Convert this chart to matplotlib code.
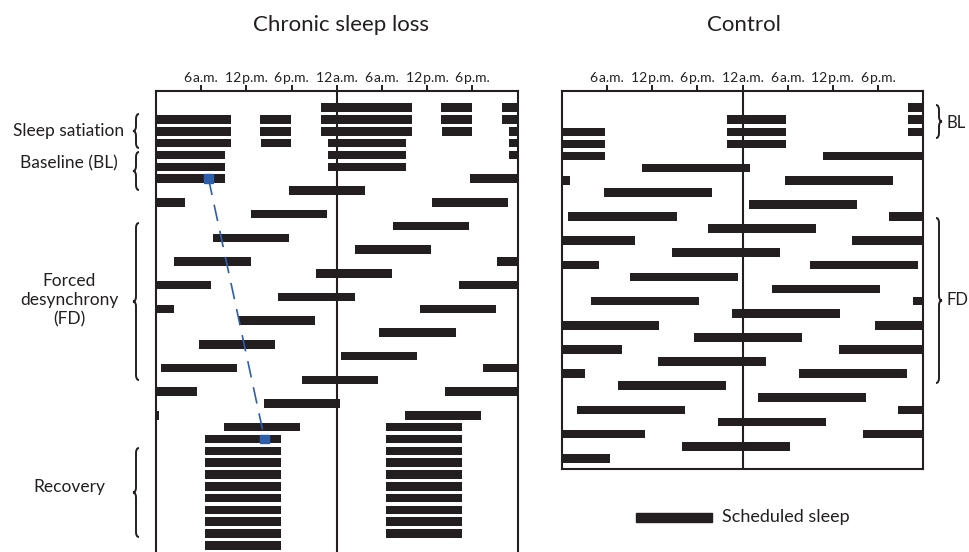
import matplotlib
matplotlib.use("Agg")
import matplotlib.pyplot as plt
from matplotlib.path import Path
from matplotlib.patches import PathPatch, Rectangle

plt.rcParams['font.family'] = ['Lato', 'DejaVu Sans']

# sleep episodes, hours counted from midnight of the first protocol day
csr_satiation_nights = [(21.9, 34.0), (45.9, 58.0), (69.9, 82.0)]
csr_satiation_naps = [(37.8, 41.9), (61.8, 65.9), (85.9, 89.9)]
csr_baseline = [(94.8, 105.2), (118.8, 129.2), (142.8, 153.2)]
csr_fd_starts = [185.7, 228.6, 271.5, 314.45, 357.2, 400.25, 443.0, 485.65, 528.6, 571.4, 614.3, 657.0]
csr_fd_length = 10.1
csr_recovery_starts = [678.5, 702.5, 726.5, 750.5, 774.5, 798.5, 822.5, 846.5, 870.5, 894.5]
csr_recovery_length = 10.1
# circadian phase marker (row, clock hour)
csr_phase_rows = [6, 28]
csr_phase_hours = [6.97, 14.4]

control_baseline = [(46.0, 53.75), (70.0, 77.75), (94.0, 101.75)]
control_fd_starts = [130.7, 173.6, 216.9, 259.4, 302.6, 345.0, 387.9, 430.6,
                     473.6, 516.8, 559.5, 602.0, 644.7, 688.0]
control_fd_length = 14.35

tick_hours = [6, 12, 18, 24, 30, 36, 42]
tick_labels = ['6\u200aa.m.', '12\u200ap.m.', '6\u200ap.m.', '12\u200aa.m.',
               '6\u200aa.m.', '12\u200ap.m.', '6\u200ap.m.']

ink = '#231f20'
blue = '#2d5fab'
bar_h = 0.72

csr_episodes = (csr_satiation_nights + csr_satiation_naps + csr_baseline
                + [(s, s + csr_fd_length) for s in csr_fd_starts]
                + [(s, s + csr_recovery_length) for s in csr_recovery_starts])
control_episodes = control_baseline + [(s, s + control_fd_length) for s in control_fd_starts]


def draw_raster(ax, episodes):
    # double plot: row r shows day r and day r+1
    n_rows = int(max(e for s, e in episodes) // 24) + 1
    for r in range(n_rows):
        lo, hi = 24 * r, 24 * r + 48
        segs = []
        for s, e in episodes:
            a, b = max(s, lo), min(e, hi)
            if b > a:
                segs.append((a - lo, b - a))
        if segs:
            ax.broken_barh(segs, (r - bar_h / 2, bar_h), facecolors=ink, edgecolor='none')
    ax.set_xlim(0, 48)
    ax.axvline(24, color=ink, lw=1.5)
    ax.xaxis.tick_top()
    ax.set_xticks(tick_hours)
    ax.set_xticklabels(tick_labels)
    ax.tick_params(axis='x', direction='out', length=4.5, width=1.4, pad=0.5,
                   labelsize=10, colors=ink)
    ax.set_yticks([])
    for sp in ax.spines.values():
        sp.set_color(ink)
        sp.set_linewidth(1.5)


fig = plt.figure(figsize=(9.7, 5.52), dpi=100)
W, H = 970, 552

ax1 = fig.add_axes([156 / W, -5 / H, 361.7 / W, 466 / H])
draw_raster(ax1, csr_episodes)
ax1.set_ylim(37.98, -1.41)
ax1.spines['bottom'].set_visible(False)
ax1.plot(csr_phase_hours, csr_phase_rows, color=blue, lw=1.2, dashes=(10, 6), zorder=3)
for r, h in zip(csr_phase_rows, csr_phase_hours):
    ax1.add_patch(Rectangle((h - 0.6, r - bar_h / 2), 1.2, bar_h, color=blue, zorder=4))

ax2 = fig.add_axes([561.7 / W, (H - 469.3) / H, 361.6 / W, 378.3 / H])
draw_raster(ax2, control_episodes)
ax2.set_ylim(29.91, -1.38)

# annotation layer in pixel units
ov = fig.add_axes([0, 0, 1, 1])
ov.set_xlim(0, W)
ov.set_ylim(H, 0)
ov.axis('off')


def brace(x, y0, y1, w=6, left=True):
    d = 1 if left else -1
    ym = (y0 + y1) / 2
    k = 5
    verts = [(x + d * w / 2, y0), (x, y0), (x, y0 + k), (x, ym - k), (x, ym),
             (x - d * w / 2, ym), (x, ym), (x, ym + k), (x, y1 - k), (x, y1),
             (x + d * w / 2, y1)]
    codes = [Path.MOVETO, Path.CURVE3, Path.CURVE3, Path.LINETO, Path.CURVE3,
             Path.CURVE3, Path.CURVE3, Path.CURVE3, Path.LINETO, Path.CURVE3, Path.CURVE3]
    ov.add_patch(PathPatch(Path(verts, codes), fill=False, color=ink, lw=1.4))


ov.text(341, 25, 'Chronic sleep loss', fontsize=16, ha='center', va='center', color=ink)
ov.text(744, 25, 'Control', fontsize=16, ha='center', va='center', color=ink)

ov.text(69, 131, 'Sleep satiation', fontsize=12.5, ha='center', va='center', color=ink)
ov.text(69, 163, 'Baseline (BL)', fontsize=12.5, ha='center', va='center', color=ink)
ov.text(69, 300, 'Forced\ndesynchrony\n(FD)', fontsize=12.5, ha='center', va='center',
        color=ink, linespacing=1.25)
ov.text(69, 487, 'Recovery', fontsize=12.5, ha='center', va='center', color=ink)
brace(136, 114, 148)
brace(136, 152, 190)
brace(136, 223, 380)
brace(136, 448, 537)

brace(939, 105, 138, left=False)
brace(939, 218, 383, left=False)
ov.text(947, 123, 'BL', fontsize=12, ha='left', va='center', color=ink)
ov.text(947, 300, 'FD', fontsize=12, ha='left', va='center', color=ink)

ov.add_patch(Rectangle((636, 513), 76, 9, color=ink))
ov.text(722, 517, 'Scheduled sleep', fontsize=13, ha='left', va='center', color=ink)

fig.savefig('out.png', dpi=100)
